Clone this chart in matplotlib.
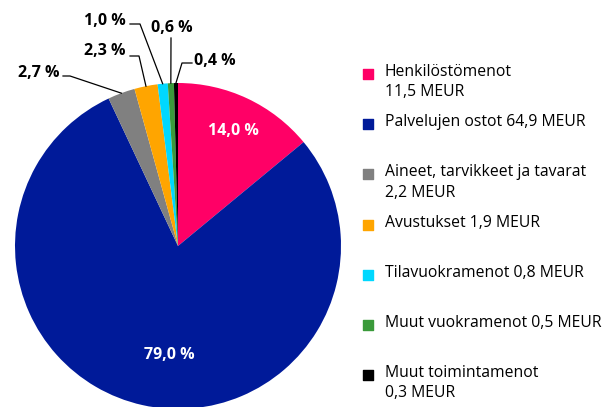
import numpy as np
import matplotlib.pyplot as plt

plt.rcParams['font.family'] = ['Open Sans', 'DejaVu Sans']

# data
shares = [14.0, 79.0, 2.7, 2.3, 1.0, 0.6, 0.4]
pct_labels = ['14,0 %', '79,0 %', '2,7 %', '2,3 %', '1,0 %', '0,6 %', '0,4 %']
legend_labels = ['Henkilöstömenot\n11,5 MEUR', 'Palvelujen ostot 64,9 MEUR',
                 'Aineet, tarvikkeet ja tavarat\n2,2 MEUR', 'Avustukset 1,9 MEUR',
                 'Tilavuokramenot 0,8 MEUR', 'Muut vuokramenot 0,5 MEUR',
                 'Muut toimintamenot\n0,3 MEUR']
colors = ['#ff0066', '#001a99', '#808080', '#ffa500', '#00d8ff', '#3a9a3a', '#000000']

W, H = 613, 407
fig = plt.figure(figsize=(W/100, H/100), dpi=100)
ax = fig.add_axes([0, 0, 1, 1])

cx, cy, r = 178, H - 246, 163
wedges, _ = ax.pie(shares, colors=colors, startangle=90, counterclock=False,
                   center=(cx, cy), radius=r, frame=True)
ax.set_xlim(0, W)
ax.set_ylim(0, H)
ax.axis('off')

# angle of each slice middle
cum = np.cumsum([0] + shares)
mids = 90 - (cum[:-1] + cum[1:]) / 2 * 3.6

# inner labels for the two big slices
inner = {0: (233, 131), 1: (169, 355)}
for i, (tx, ty) in inner.items():
    ax.text(tx, H-ty, pct_labels[i], color='white', fontsize=11.5,
            fontweight='bold', ha='center', va='center')

# outer labels: (text x, text y, line start x, line y, elbow x, side)
outer = {2: (59, 73, 63, 76, 70, 'right'),
         3: (126, 51, 130, 56, 139, 'right'),
         4: (126, 21, 130, 24, 140, 'right'),
         5: (172, 28, 171, 38, 171, 'center'),
         6: (194, 61, 192, 63, 182, 'left')}
for i, (tx, ty, lx, ly, ex, side) in outer.items():
    a = np.deg2rad(mids[i])
    px, py = cx + r*np.cos(a), cy + r*np.sin(a)
    ax.plot([lx, ex, px], [H-ly, H-ly, py], color='black', lw=0.9)
    ax.text(tx, H-ty, pct_labels[i], ha=side, va='center',
            fontsize=11.5, fontweight='bold')

# legend
for i, (lab, c) in enumerate(zip(legend_labels, colors)):
    y = H - (74 + 50.2*i)
    ax.scatter([368], [y], marker='s', s=60, color=c)
    ax.text(385, y + 10, lab, ha='left', va='top', fontsize=11.3, linespacing=1.35)

fig.savefig('out.png', dpi=100)
